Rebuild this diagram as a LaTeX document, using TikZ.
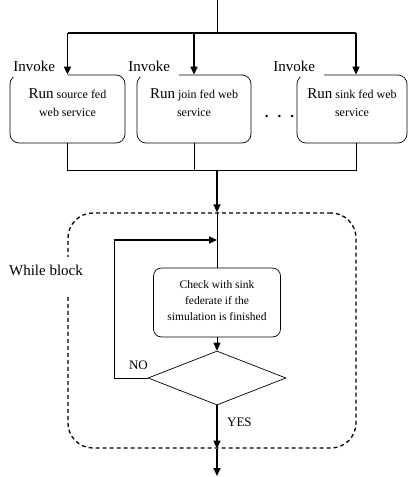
\documentclass[tikz,border=0pt]{standalone}
\usepackage{fontspec}
\setmainfont{Liberation Serif}
\usetikzlibrary{arrows.meta,shapes.geometric}

\def\bigrun{{\fontsize{15}{15}\selectfont Run}}

\begin{document}
\begin{tikzpicture}[x=1pt,y=-1pt,line width=0.7pt,
  fedbox/.style={draw,rounded corners=9pt,align=center,inner sep=0pt,
    font=\fontsize{12}{18}\selectfont,minimum height=68pt,text depth=13pt},
  invoke/.style={fill=white,anchor=base west,align=left,inner xsep=2pt,inner ysep=2pt,
    text depth=4pt,font=\fontsize{15}{15}\selectfont},
  flow/.style={line width=1.6pt,-{Triangle[length=8pt,width=7pt]}},
  thinflow/.style={-{Triangle[length=8pt,width=7pt]}}]
  \useasboundingbox (0,0) rectangle (409,477);

  % federate web services
  \node[fedbox,minimum width=115pt] (src) at (67.5,109) {\bigrun\ source fed\\web service};
  \node[fedbox,minimum width=114pt] (join) at (194,109) {\bigrun\ join fed web\\service};
  \node[fedbox,minimum width=110pt] (sink) at (352,109) {\bigrun\ sink fed web\\service};
  \node[font=\bfseries\fontsize{15}{15}\selectfont,anchor=base] (dots) at (279.5,117) {.\hspace{9pt}.\hspace{9pt}.};

  \node[invoke,text width=53pt] (inv1) at (11,71) {Invoke};
  \node[invoke,text width=49pt] (inv2) at (126,71) {Invoke};
  \node[invoke,text width=49pt] (inv3) at (271,71) {Invoke};

  \coordinate (start) at (217,0);
  \coordinate (split) at (217,33);
  \coordinate (merge) at (217,170);
  \coordinate (sinkin) at ([xshift=4pt]sink.north);
  \coordinate (sinkout) at ([xshift=4pt]sink.south);

  \draw (start) -- (split);
  \draw[line width=1.6pt] (src.north |- split) -- (sinkin |- split);
  \draw[flow] (src.north |- split) -- (src.north);
  \draw[flow] (join.north |- split) -- (join.north);
  \draw[flow] (sinkin |- split) -- (sinkin);

  \draw (src.south) -- (src.south |- merge) -| (sinkout);
  \draw (join.south) -- (join.south |- merge);

  % while block
  \node[draw,dashed,dash pattern=on 4pt off 3pt,line width=1.3pt,rounded corners=25pt,
    minimum width=288pt,minimum height=235pt,inner sep=0pt] (whileblk) at (212,330.5) {};
  \node[fill=white,anchor=base,text height=10pt,text depth=12pt,inner ysep=8pt,
    font=\fontsize{15}{15}\selectfont] (whilelbl) at (46,275) {While block};

  \node[fedbox,rounded corners=8pt,minimum width=127pt,minimum height=69pt,text depth=3pt,
    font=\fontsize{11.5}{16}\selectfont] (check) at (217,302.5)
    {Check with sink\\federate if the\\simulation is finished};
  \node[draw,diamond,minimum width=138pt,minimum height=54pt,inner sep=0pt] (decide) at (217,378) {};

  \coordinate (loopin) at (217,240);
  \coordinate (loopcorner) at (114,240);
  \coordinate (exit) at (217,476);

  \draw[flow] (merge) -- (merge |- whileblk.north);
  \draw (merge |- whileblk.north) -- (check.north);
  \draw[thinflow] (check) -- (decide);
  \draw (decide.west) -- (decide.west -| loopcorner) -- (loopcorner);
  \draw[flow] (loopcorner) -- (loopin);
  \node[font=\fontsize{13}{13}\selectfont] (nolbl) at (138.5,365) {NO};
  \draw[flow] (decide.south) -- (decide.south |- whileblk.south)
    node[pos=0.4,right=6pt,font=\fontsize{13}{13}\selectfont] (yeslbl) {YES};
  \draw[flow] (decide.south |- whileblk.south) -- (exit);
\end{tikzpicture}
\end{document}
